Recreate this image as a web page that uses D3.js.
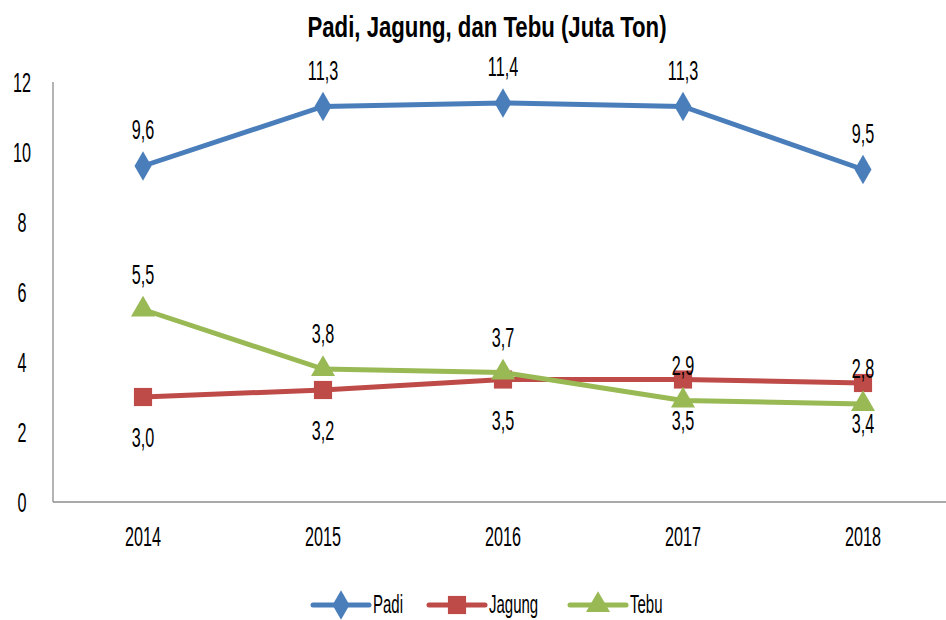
<!DOCTYPE html>
<meta charset="utf-8">
<head>
  <title>Padi, Jagung, dan Tebu</title>
</head>

<style>
body {
  margin: 0;
  background: #fff;
}
text {
  font-family: "Liberation Sans", Arial, sans-serif;
  fill: #000;
}
</style>

<body>
  <div id="content">
    <svg width="946" height="620"></svg>
  </div>

  <script src="https://cdnjs.cloudflare.com/ajax/libs/d3/7.8.5/d3.min.js"></script>

  <script>
var years = ['2014', '2015', '2016', '2017', '2018'];
var padi = [9.6, 11.3, 11.4, 11.3, 9.5];
var jagung = [3.0, 3.2, 3.5, 3.5, 3.4];
var tebu = [5.5, 3.8, 3.7, 2.9, 2.8];
var yTicks = [0, 2, 4, 6, 8, 10, 12];

var series = [
  {name: 'Padi', values: padi, color: '#4a7ebb', symbol: d3.symbolDiamond, labelDy: -27},
  {name: 'Jagung', values: jagung, color: '#be4b48', symbol: d3.symbolSquare, labelDy: 50},
  {name: 'Tebu', values: tebu, color: '#98b954', symbol: d3.symbolTriangle, labelDy: -26}
];

// narrow tall font look: squeeze text horizontally
var SX = 0.6;
var FS = 27;

var svg = d3.select('#content svg');

var x = d3.scalePoint()
  .domain(years)
  .range([53, 953])
  .padding(0.5);

var y = d3.scaleLinear()
  .domain([0, 12])
  .range([502, 82]);

function label(sel, px, py, anchor) {
  return sel
    .attr('transform', function(d, i) { return 'translate(' + px(d, i) + ',' + py(d, i) + ') scale(' + SX + ',1)'; })
    .attr('text-anchor', anchor || 'middle')
    .style('font-size', FS + 'px');
}

// title
svg.append('text')
  .attr('transform', 'translate(487,37) scale(0.74,1)')
  .attr('text-anchor', 'middle')
  .style('font-size', '30px')
  .style('font-weight', 'bold')
  .text('Padi, Jagung, dan Tebu (Juta Ton)');

// axes
svg.append('line')
  .attr('x1', 53).attr('x2', 53)
  .attr('y1', y(12)).attr('y2', y(0))
  .attr('stroke', '#8c8c8c').attr('stroke-width', 1.3);
svg.append('line')
  .attr('x1', 53).attr('x2', 946)
  .attr('y1', y(0)).attr('y2', y(0))
  .attr('stroke', '#8c8c8c').attr('stroke-width', 1.3);

label(svg.selectAll('.ytick')
  .data(yTicks)
  .enter().append('text')
  .attr('class', 'ytick'),
  function() { return 22; },
  function(d) { return y(d) + 10; })
  .text(function(d) { return d; });

label(svg.selectAll('.xtick')
  .data(years)
  .enter().append('text')
  .attr('class', 'xtick'),
  function(d) { return x(d); },
  function() { return 546; })
  .text(function(d) { return d; });

var line = d3.line()
  .x(function(d, i) { return x(years[i]); })
  .y(function(d) { return y(d); });

var fmt = function(v) { return d3.format('.1f')(v).replace('.', ','); };

function symbolSize(s) {
  return s === d3.symbolSquare ? 330 : 250;
}

series.forEach(function(s) {
  var g = svg.append('g');
  g.append('path')
    .attr('d', line(s.values))
    .attr('fill', 'none')
    .attr('stroke', s.color)
    .attr('stroke-width', 5)
    .attr('stroke-linejoin', 'round');
  g.selectAll('path.mk')
    .data(s.values)
    .enter().append('path')
    .attr('class', 'mk')
    .attr('transform', function(d, i) { return 'translate(' + x(years[i]) + ',' + y(d) + ')'; })
    .attr('d', d3.symbol().type(s.symbol).size(symbolSize(s.symbol)))
    .attr('fill', s.color);
});

series.forEach(function(s) {
  label(svg.selectAll(null)
    .data(s.values)
    .enter().append('text'),
    function(d, i) { return x(years[i]); },
    function(d) { return y(d) + s.labelDy; })
    .text(function(d) { return fmt(d); });
});

// legend (kept just inside the bottom edge)
var legendX = [313, 429, 570];
var legend = svg.selectAll('.legend')
  .data(series)
  .enter().append('g')
  .attr('class', 'legend')
  .attr('transform', function(d, i) { return 'translate(' + legendX[i] + ',605)'; });
legend.append('line')
  .attr('x1', 0).attr('x2', 56)
  .attr('stroke', function(d) { return d.color; })
  .attr('stroke-width', 5)
  .attr('stroke-linecap', 'round');
legend.append('path')
  .attr('transform', 'translate(28,0)')
  .attr('d', function(d) { return d3.symbol().type(d.symbol).size(symbolSize(d.symbol))(); })
  .attr('fill', function(d) { return d.color; });
legend.append('text')
  .attr('transform', 'translate(60,8) scale(' + SX + ',1)')
  .style('font-size', '25px')
  .text(function(d) { return d.name; });
  </script>
</body>
</html>
